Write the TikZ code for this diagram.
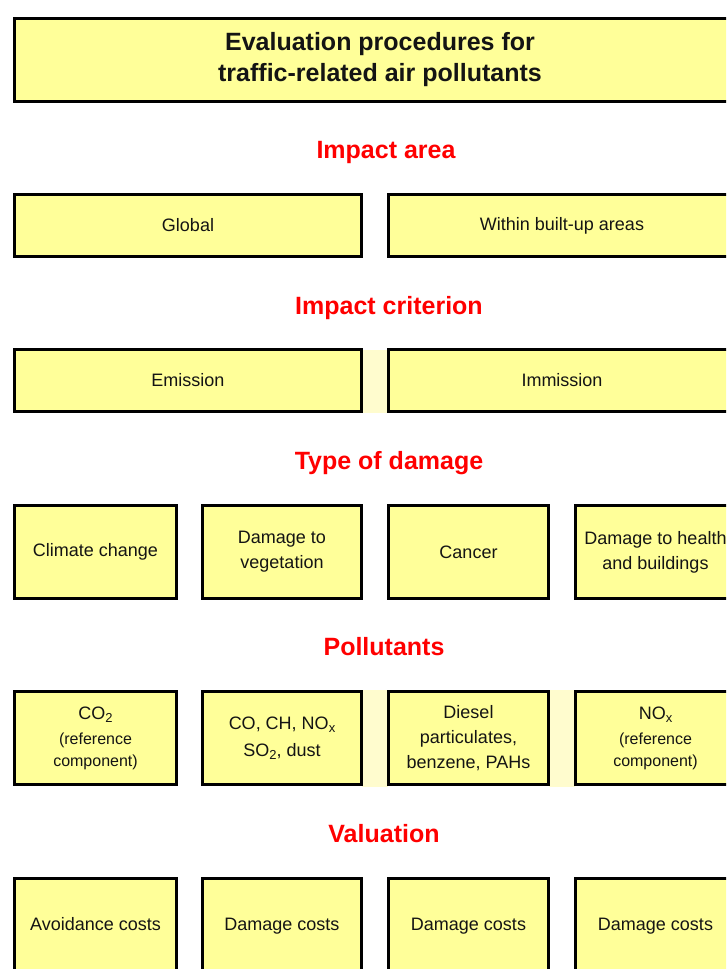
\documentclass[tikz,border=0pt]{standalone}
\usepackage{fontspec}
\setmainfont{Liberation Sans}
\definecolor{boxfill}{RGB}{255,255,153}
\definecolor{headred}{RGB}{255,0,0}
\definecolor{inktext}{RGB}{20,20,20}
\definecolor{paleband}{RGB}{255,252,206}
% lowered small index, as in CO2 or NOx
\newcommand{\lowidx}[1]{\raisebox{-0.35ex}{\fontsize{13}{13}\selectfont #1}}
\tikzset{
  box/.style={draw=black, line width=3pt, fill=boxfill, text=inktext,
    font=\fontsize{18}{25}\selectfont, align=center, inner sep=0pt},
  titlebox/.style={box, font=\fontsize{25}{31}\selectfont\bfseries},
  heading/.style={text=headred, font=\fontsize{25}{30}\selectfont\bfseries,
    anchor=base, inner sep=0pt},
}
\begin{document}
\begin{tikzpicture}[x=1pt, y=-1pt]
  \useasboundingbox (0,0) rectangle (726,969);
  \clip (0,0) rectangle (726,969);
  \fill[white] (0,0) rectangle (726,969);

  % faint bands between some neighbouring boxes
  \fill[paleband] (362,350) rectangle (388,413);
  \fill[paleband] (362,690) rectangle (388,787);
  \fill[paleband] (549,690) rectangle (575,787);

  % title
  \node[titlebox, minimum width=731pt, minimum height=83pt] (title) at (380,60)
    {Evaluation procedures for\\traffic-related air pollutants};

  % impact area
  \node[heading] (harea) at (386,158) {Impact area};
  \node[box, minimum width=347pt, minimum height=62pt] (global) at (188,225.5) {Global};
  \node[box, minimum width=347pt, minimum height=62pt] (builtup) at (562,225.5) {Within built-up areas};

  % impact criterion
  \node[heading] (hcrit) at (389,314) {Impact criterion};
  \node[box, minimum width=347pt, minimum height=62pt] (emission) at (188,380.5) {Emission};
  \node[box, minimum width=347pt, minimum height=62pt] (immission) at (562,380.5) {Immission};

  % type of damage
  \node[heading] (hdamage) at (389,469) {Type of damage};
  \node[box, minimum width=162pt, minimum height=93pt] (climate) at (95.5,552) {Climate change};
  \node[box, minimum width=159pt, minimum height=93pt] (vegetation) at (282,552) {Damage to\\vegetation};
  \node[box, minimum width=160pt, minimum height=93pt] (cancer) at (468.5,552) {Cancer};
  \node[box, minimum width=160pt, minimum height=93pt] (health) at (655.5,552) {Damage to health\\and buildings};

  % pollutants
  \node[heading] (hpoll) at (384,655) {Pollutants};
  \node[box, minimum width=162pt, minimum height=93pt] (co2) at (95.5,738)
    {CO\lowidx{2}\\[0pt]{\fontsize{16}{21}\selectfont (reference}\\[-3pt]{\fontsize{16}{21}\selectfont component)}};
  \node[box, minimum width=159pt, minimum height=93pt] (mixed) at (282,738)
    {CO, CH, NO\lowidx{x}\\[2pt]SO\lowidx{2}, dust};
  \node[box, minimum width=160pt, minimum height=93pt] (diesel) at (468.5,738)
    {Diesel\\particulates,\\benzene, PAHs};
  \node[box, minimum width=160pt, minimum height=93pt] (nox) at (655.5,738)
    {NO\lowidx{x}\\[0pt]{\fontsize{16}{21}\selectfont (reference}\\[-3pt]{\fontsize{16}{21}\selectfont component)}};

  % valuation
  \node[heading] (hval) at (384,842) {Valuation};
  \node[box, minimum width=162pt, minimum height=93pt] (avoid) at (95.5,925) {\strut Avoidance costs};
  \node[box, minimum width=159pt, minimum height=93pt] (dmg1) at (282,925) {\strut Damage costs};
  \node[box, minimum width=160pt, minimum height=93pt] (dmg2) at (468.5,925) {\strut Damage costs};
  \node[box, minimum width=160pt, minimum height=93pt] (dmg3) at (655.5,925) {\strut Damage costs};
\end{tikzpicture}
\end{document}
